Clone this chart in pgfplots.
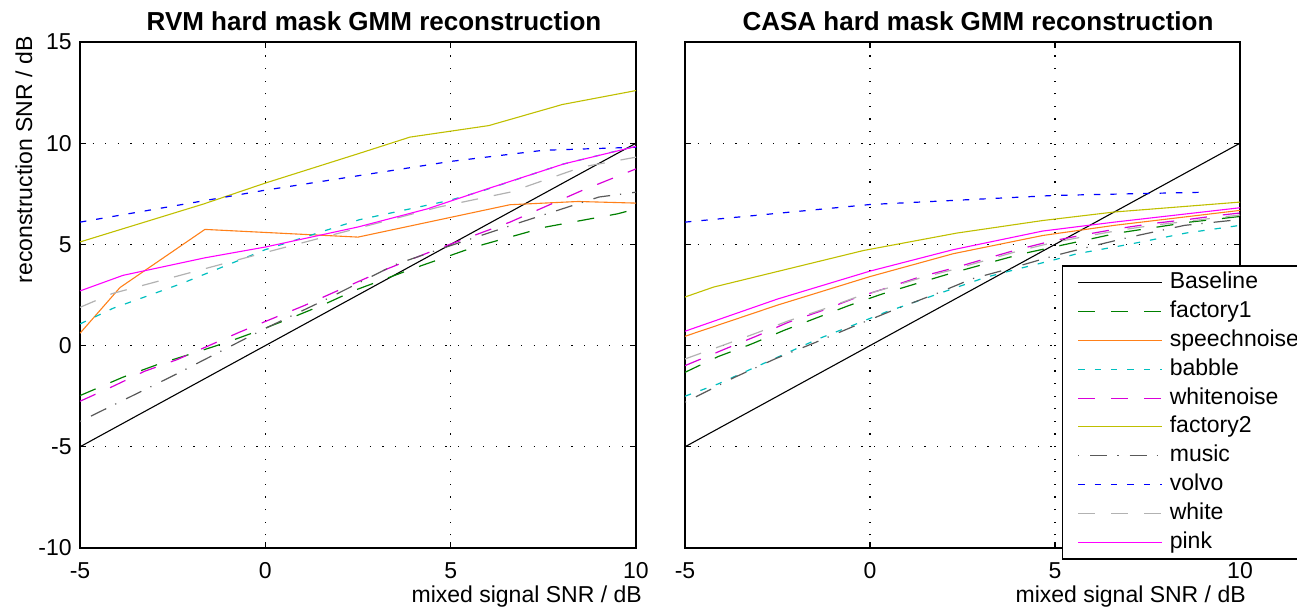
\documentclass[border=0pt]{standalone}
\usepackage{pgfplots}
\pgfplotsset{compat=1.18}
\usepackage{fontspec}
\setmainfont{Liberation Sans}
\definecolor{cgreen}{rgb}{0,0.5,0}
\definecolor{corange}{rgb}{1,0.5,0.1}
\definecolor{ccyan}{rgb}{0,0.75,0.75}
\definecolor{cwn}{rgb}{0.85,0,0.85}
\definecolor{colive}{rgb}{0.75,0.75,0}
\definecolor{cmusic}{rgb}{0.35,0.35,0.35}
\definecolor{cwhite}{rgb}{0.7,0.7,0.7}
\definecolor{cpink}{rgb}{1,0,1}
\definecolor{cblue}{rgb}{0,0,1}
\pgfplotsset{
  myaxis/.style={
    scale only axis, height=253pt,
    xmin=-5, xmax=10, ymin=-10, ymax=15,
    xtick={-5,0,5,10}, ytick={-10,-5,0,5,10,15},
    xticklabels={-5,0,5,10},
    grid=major,
    grid style={black, line width=0.6pt, dash pattern=on 0.6pt off 5.7pt},
    axis line style={line width=0.8pt},
    tick style={black, line width=0.6pt},
    major tick length=3pt,
    tick align=inside,
    ticklabel style={font=\fontsize{11.5}{13}\selectfont},
    xticklabel style={anchor=north, inner sep=0pt, yshift=-7pt},
    yticklabel style={anchor=east, inner sep=0pt, xshift=-4pt},
    title style={font=\bfseries\fontsize{13}{15}\selectfont, anchor=base, yshift=-6pt},
    xlabel={mixed signal SNR / dB},
    xlabel style={font=\fontsize{11.5}{13}\selectfont, at={(rel axis cs:1.011,-0.095)}, anchor=east, inner sep=0pt},
    legend image code/.code={\draw[##1] (0pt,0pt) -- (42pt,0pt);},
  },
  sBase/.style={black, line width=0.55pt},
  sF1/.style={cgreen, line width=0.6pt, dash pattern=on 8.5pt off 8pt},
  sSp/.style={corange, line width=0.55pt},
  sBab/.style={ccyan, line width=0.6pt, dash pattern=on 3.2pt off 5pt},
  sWn/.style={cwn, line width=0.6pt, dash pattern=on 8.5pt off 8pt},
  sF2/.style={colive, line width=0.55pt},
  sMus/.style={cmusic, line width=0.6pt, dash pattern=on 0.6pt off 5.5pt on 8.5pt off 5pt},
  sVol/.style={cblue, line width=0.6pt, dash pattern=on 3.2pt off 5pt},
  sWh/.style={cwhite, line width=0.6pt, dash pattern=on 8.5pt off 8pt},
  sPk/.style={cpink, line width=0.55pt},
}
\begin{document}
\begin{tikzpicture}
\useasboundingbox (0,0) rectangle (648.5pt,304.5pt);
% ---------------- left panel ----------------
\begin{axis}[myaxis, width=278pt, at={(40pt,30.5pt)}, anchor=south west,
  title={RVM hard mask GMM reconstruction},
  title style={at={(rel axis cs:0.5288,1.0237)}},
  yticklabels={-10,-5,0,5,10,15},
  ylabel={reconstruction SNR / dB},
  ylabel style={font=\fontsize{11.5}{13}\selectfont, at={(rel axis cs:-0.1007,0.767)}, anchor=center},
]
\addplot[sBase] coordinates {(-5,-5) (10,10)};
\addplot[sF1] coordinates {(-5,-2.47) (-3.84,-1.56) (-2.87,-0.91) (-1.95,-0.38) (-1.04,0.16) (-0.17,0.74) (0.7,1.37) (1.58,2.03) (2.44,2.75) (3.9,3.75) (5.64,4.87) (7.57,5.86) (9.5,6.51) (10,6.75)};
\addplot[sSp] coordinates {(-5,0.61) (-3.92,2.87) (-1.63,5.74) (2.5,5.36) (6.6,6.96) (8.44,7.12) (10,7.04)};
\addplot[sBab] coordinates {(-5,1.07) (-4.1,1.85) (-3.26,2.40) (-2.24,3.08) (0,4.74) (2.54,6.22) (4.96,7.17) (5.83,7.63) (8,8.95) (10,9.85)};
\addplot[sWn] coordinates {(-5,-2.75) (-4.13,-2.03) (-3.26,-1.27) (-2.39,-0.70) (-1.52,0.0) (-0.70,0.66) (0.17,1.32) (1.04,1.97) (1.96,2.72) (3.3,3.8) (4.67,4.79) (6.6,6.1) (8.54,7.66) (10,8.73)};
\addplot[sF2] coordinates {(-5,5.12) (-1.66,7.0) (0,8.03) (2.54,9.5) (3.9,10.3) (6.03,10.87) (8.01,11.91) (10,12.6)};
\addplot[sMus] coordinates {(-5,-3.75) (-2.5,-1.5) (0,0.85) (1.6,2.25) (3.5,4.0) (4.67,4.74) (6.9,6.1) (9,7.34) (10,7.58)};
\addplot[sVol] coordinates {(-5,6.1) (0,7.68) (5,9.1) (7.5,9.65) (10,9.8)};
\addplot[sWh] coordinates {(-5,1.89) (-4.13,2.57) (0,4.6) (4.67,6.84) (6.6,7.58) (8.54,8.82) (10,9.31)};
\addplot[sPk] coordinates {(-5,2.70) (-3.84,3.47) (-1.62,4.34) (0,4.87) (2.5,5.86) (4.38,6.76) (5.93,7.71) (8.06,8.98) (10,9.84)};
\end{axis}
% ---------------- right panel ----------------
\begin{axis}[myaxis, width=277.5pt, at={(342.5pt,30.5pt)}, anchor=south west,
  title={CASA hard mask GMM reconstruction},
  title style={at={(rel axis cs:0.528,1.0237)}},
  yticklabels={},
  legend style={at={(0.679,0.559)}, anchor=north west, draw=black, line width=0.8pt,
    font=\fontsize{11.5}{13}\selectfont, cells={anchor=west},
    inner xsep=7.5pt, inner ysep=2pt, column sep=2.5pt, row sep=1.4pt,
    nodes={inner sep=1pt, text height=8.5pt, text depth=2.5pt}},
]
\addplot[sBase] coordinates {(-5,-5) (10,10)};
\addplot[sF1] coordinates {(-5,-1.32) (-4.1,-0.54) (-3.2,0.08) (-2.3,0.77) (-1.4,1.40) (-0.57,1.98) (0.33,2.55) (1.23,3.05) (2.13,3.54) (3.12,4.04) (4.1,4.53) (6.7,5.56) (8.64,6.1) (10,6.38)};
\addplot[sSp] coordinates {(-5,0.46) (-2.5,2.0) (0,3.41) (2.25,4.54) (4.67,5.44) (6.6,5.94) (10,6.68)};
\addplot[sBab] coordinates {(-5,-2.5) (-4.1,-1.89) (-3.2,-1.15) (-2.3,-0.41) (-1.4,0.33) (-0.48,0.99) (0.42,1.65) (1.32,2.22) (2.22,2.8) (3.12,3.37) (4.0,3.79) (4.9,4.2) (5.6,4.54) (7.08,5.03) (8.54,5.56) (10,5.94)};
\addplot[sWn] coordinates {(-5,-0.99) (-3.92,-0.17) (-3.04,0.49) (-2.21,1.15) (-1.29,1.73) (-0.39,2.36) (0.51,2.88) (1.32,3.38) (2.2,3.8) (3.05,4.25) (4.0,4.75) (4.9,5.16) (5.83,5.49) (6.75,5.79) (7.67,6.04) (8.59,6.23) (9.5,6.45) (10,6.55)};
\addplot[sF2] coordinates {(-5,2.40) (-4.23,2.89) (-0.17,4.70) (2.35,5.56) (4.67,6.18) (6.6,6.6) (10,7.09)};
\addplot[sMus] coordinates {(-5,-2.8) (-3.65,-1.56) (-2.57,-0.66) (-1.47,0.16) (-0.39,0.99) (0.6,1.73) (1.77,2.55) (2.76,3.3) (3.75,3.79) (5.0,4.45) (5.91,4.87) (7,5.35) (8.5,5.94) (10,6.23)};
\addplot[sVol] coordinates {(-5,6.1) (0,6.97) (5,7.42) (9.1,7.58)};
\addplot[sWh] coordinates {(-5,-0.66) (-3.92,0.05) (-3.04,0.64) (-2.21,1.22) (-1.29,1.78) (-0.39,2.38) (0.51,2.86) (1.32,3.32) (2.2,3.73) (3.05,4.17) (4.0,4.67) (4.9,5.07) (5.83,5.4) (6.75,5.7) (7.67,5.95) (8.59,6.14) (9.5,6.35) (10,6.45)};
\addplot[sPk] coordinates {(-5,0.71) (-2.5,2.3) (0,3.68) (2.25,4.74) (4.67,5.66) (6.6,6.1) (10,6.81)};
\legend{Baseline,factory1,speechnoise,babble,whitenoise,factory2,music,volvo,white,pink}
\end{axis}
\end{tikzpicture}
\end{document}
